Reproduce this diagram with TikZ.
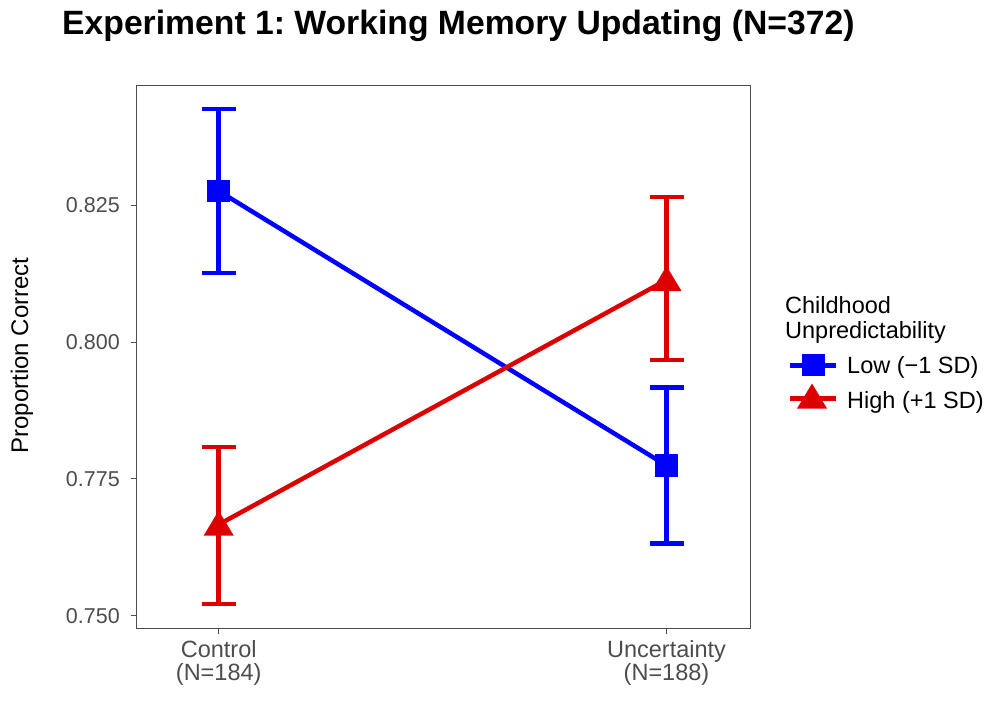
\documentclass[tikz,border=0pt]{standalone}
\usepackage{fontspec}
\setmainfont{Liberation Sans}
\usetikzlibrary{calc}
\frenchspacing
\definecolor{lowblue}{RGB}{0,0,255}
\definecolor{highred}{RGB}{220,0,0}
\definecolor{axgray}{RGB}{77,77,77}
\tikzset{
  datline/.style={line width=4.5pt},
  errbar/.style={line width=4.5pt},
  yticklab/.style={font=\fontsize{21.5}{24}\selectfont, text=axgray, inner sep=0pt},
  xticklab/.style={font=\fontsize{23.5}{26}\selectfont, text=axgray, inner sep=0pt},
  legfont/.style={font=\fontsize{23.5}{26}\selectfont, text=black, inner sep=0pt, anchor=base west},
  sqmark/.style={rectangle, fill=lowblue, minimum size=22.5pt, inner sep=0pt},
  trimark/.pic={\fill[highred] (0,-14) -- (15,11) -- (-15,11) -- cycle;},
  tickline/.style={line width=1pt, draw=axgray}
}
\begin{document}
\begin{tikzpicture}[x=1pt,y=-1pt]
\useasboundingbox[fill=white] (0,0) rectangle (1008,720);
% title
\node[anchor=base west, inner sep=0pt, font=\fontsize{33.7}{38}\selectfont\bfseries] (title) at (62,34) {Experiment 1: Working Memory Updating (N=372)};
% panel
\node[draw=axgray, line width=1pt, rectangle, minimum width=614pt, minimum height=543pt, inner sep=0pt, anchor=north west] (panel) at (136,85) {};
% y ticks
\foreach \yv/\lab/\nm in {205/0.825/ya, 342/0.800/yb, 478.8/0.775/yc, 615.7/0.750/yd}{
  \coordinate (\nm0) at (130.5,\yv);
  \coordinate (\nm1) at (136,\yv);
  \draw[tickline] (\nm0) -- (\nm1);
  \node[yticklab, anchor=east] (\nm l) at (120,\yv) {\lab};
}
% x ticks
\coordinate (xa0) at (218.7,628); \coordinate (xa1) at (218.7,634);
\coordinate (xb0) at (666.5,628); \coordinate (xb1) at (666.5,634);
\draw[tickline] (xa0) -- (xa1);
\draw[tickline] (xb0) -- (xb1);
\node[xticklab, anchor=base] (xal1) at (218.7,657) {Control};
\node[xticklab, anchor=base] (xal2) at (218.7,680) {(N=184)};
\node[xticklab, anchor=base] (xbl1) at (666.5,657) {Uncertainty};
\node[xticklab, anchor=base] (xbl2) at (666.5,680) {(N=188)};
% y axis title
\node[rotate=90, anchor=base, inner sep=0pt, font=\fontsize{24}{26}\selectfont] (ytitle) at (28,355.5) {Proportion Correct};
% data coordinates
\coordinate (lc) at (218.7,191);
\coordinate (lu) at (666.5,465.5);
\coordinate (hc) at (218.7,524.5);
\coordinate (hu) at (666.5,280);
% error bars: low
\coordinate (lct) at (218.7,109); \coordinate (lcb) at (218.7,273);
\coordinate (lut) at (666.5,387.5); \coordinate (lub) at (666.5,543.5);
% error bars: high
\coordinate (hct) at (218.7,447); \coordinate (hcb) at (218.7,604);
\coordinate (hut) at (666.5,197); \coordinate (hub) at (666.5,360);
\foreach \a/\b/\c in {lct/lcb/lowblue, lut/lub/lowblue, hct/hcb/highred, hut/hub/highred}{
  \draw[errbar, draw=\c] (\a) -- (\b);
  \draw[errbar, draw=\c] ($(\a)+(-17,0)$) -- ($(\a)+(17,0)$);
  \draw[errbar, draw=\c] ($(\b)+(-17,0)$) -- ($(\b)+(17,0)$);
}
% lines
\draw[datline, draw=lowblue] (lc) -- (lu);
\draw[datline, draw=highred] (hc) -- (hu);
% markers
\node[sqmark] (lcm) at (lc) {};
\node[sqmark] (lum) at (lu) {};
\pic at (hc) {trimark};
\pic at (hu) {trimark};
% legend
\node[legfont] (legt1) at (785,313) {Childhood};
\node[legfont] (legt2) at (785,338) {Unpredictability};
\coordinate (k1a) at (790,365); \coordinate (k1b) at (836,365); \coordinate (k1c) at (813.5,365);
\coordinate (k2a) at (790,398); \coordinate (k2b) at (836,398); \coordinate (k2c) at (812,397.5);
\draw[line width=5pt, draw=lowblue] (k1a) -- (k1b);
\node[sqmark] (k1m) at (k1c) {};
\draw[line width=5pt, draw=highred] (k2a) -- (k2b);
\pic at (k2c) {trimark};
\node[legfont] (leg1) at (847,373) {Low (−1 SD)};
\node[legfont] (leg2) at (847,408) {High (+1 SD)};
\end{tikzpicture}
\end{document}
